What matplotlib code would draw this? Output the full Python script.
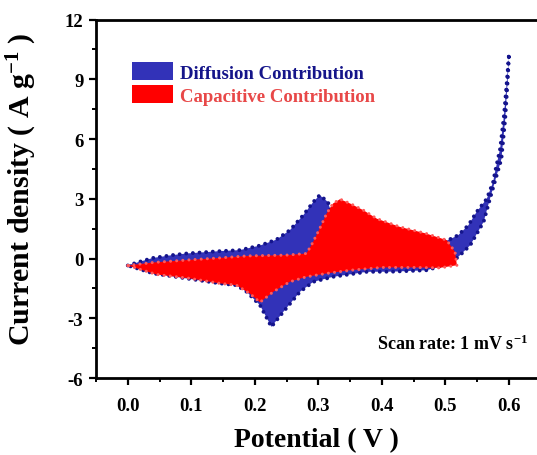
import matplotlib
matplotlib.use('Agg')
import matplotlib.pyplot as plt
from matplotlib.patches import Patch
from matplotlib.ticker import MultipleLocator

plt.rcParams['font.family'] = ['Liberation Serif', 'DejaVu Serif']
plt.rcParams['font.weight'] = 'bold'
plt.rcParams['mathtext.fontset'] = 'custom'
plt.rcParams['mathtext.rm'] = 'Liberation Serif:bold'
plt.rcParams['mathtext.bf'] = 'Liberation Serif:bold'
plt.rcParams['mathtext.default'] = 'bf'
plt.rcParams['axes.unicode_minus'] = False

# total CV (diffusion + capacitive), closed loop: anodic sweep then cathodic sweep
total_v = [0.0, 0.02, 0.04, 0.07, 0.092, 0.145, 0.176, 0.208, 0.234, 0.255, 0.276, 0.292, 0.302,
           0.315, 0.325, 0.335, 0.35, 0.4, 0.45, 0.504, 0.52, 0.536, 0.549, 0.565, 0.575, 0.578,
           0.586, 0.592, 0.596, 0.6,
           0.598, 0.594, 0.588, 0.57, 0.56, 0.539, 0.523, 0.517, 0.491, 0.47, 0.417, 0.376,
           0.323, 0.292, 0.271, 0.245, 0.226, 0.208, 0.187, 0.171, 0.145, 0.092, 0.04, 0.0]
total_i = [-0.35, -0.15, 0.03, 0.17, 0.25, 0.37, 0.42, 0.65, 0.95, 1.42, 2.17, 2.84, 3.18,
           2.84, 1.8, 1.2, 0.9, 0.7, 0.7, 0.92, 1.17, 1.67, 2.34, 3.0, 3.85, 4.35,
           5.52, 7.19, 8.7, 10.29,
           9.0, 7.0, 5.0, 3.0, 1.84, 0.67, 0.17, 0.0, -0.4, -0.59, -0.66, -0.67,
           -0.92, -1.17, -1.67, -2.67, -3.43, -2.34, -1.67, -1.34, -1.25, -1.0, -0.75, -0.35]

# capacitive contribution, closed loop
cap_v = [0.0, 0.04, 0.092, 0.145, 0.188, 0.25, 0.281, 0.289, 0.302, 0.313, 0.323, 0.334,
         0.35, 0.371, 0.392, 0.428, 0.47, 0.502, 0.515, 0.518,
         0.491, 0.45, 0.4, 0.35, 0.313, 0.281, 0.255, 0.229, 0.208, 0.192, 0.171, 0.145,
         0.098, 0.045, 0.0]
cap_i = [-0.35, -0.2, -0.08, 0.03, 0.13, 0.17, 0.25, 0.67, 1.5, 2.26, 2.76, 2.98,
         2.76, 2.42, 2.0, 1.59, 1.25, 0.92, 0.33, -0.34,
         -0.47, -0.45, -0.45, -0.59, -0.75, -0.92, -1.17, -1.67, -2.2, -1.76, -1.34, -1.25,
         -1.0, -0.8, -0.35]

labels = ['Diffusion Contribution', 'Capacitive Contribution']
fill_colors = ['#3232b8', '#ff0000']
dot_colors = ['#14148c', '#ff5a5a']
text_colors = ['#15158a', '#e84848']

fig = plt.figure(figsize=(5.37, 4.56), dpi=100)
ax = fig.add_axes([96 / 537, 77 / 456, 441 / 537, 358.5 / 456])

ax.fill(total_v, total_i, color=fill_colors[0], lw=0, zorder=2)
ax.plot(total_v, total_i, color=dot_colors[0], lw=2.8, linestyle=(0, (0.01, 1.7)),
        dash_capstyle='round', zorder=3)
ax.fill(cap_v, cap_i, color=fill_colors[1], lw=0, zorder=4)
ax.plot(cap_v, cap_i, color=dot_colors[1], lw=2.2, linestyle=(0, (0.01, 2.0)),
        dash_capstyle='round', zorder=5)

ax.set_xlim(-0.05, 0.644)
ax.set_ylim(-6, 12)
ax.xaxis.set_minor_locator(MultipleLocator(0.05))
ax.yaxis.set_major_locator(MultipleLocator(3))
ax.yaxis.set_minor_locator(MultipleLocator(1.5))
ax.set_xticks([0.0, 0.1, 0.2, 0.3, 0.4, 0.5, 0.6])
ax.set_xticklabels(['0.0', '0.1', '0.2', '0.3', '0.4', '0.5', '0.6'])
ax.tick_params(which='major', direction='out', length=5, width=1.6, labelsize=13.5)
ax.tick_params(axis='x', which='major', pad=9)
ax.tick_params(axis='y', which='major', pad=4)
ax.tick_params(which='minor', direction='out', length=3, width=1.4)
ax.tick_params(top=False, right=False)
for lab in ax.get_xticklabels() + ax.get_yticklabels():
    lab.set_fontweight('bold')

ax.spines['right'].set_visible(False)
for s in ['left', 'bottom', 'top']:
    ax.spines[s].set_linewidth(2.0)

ax.set_xlabel('Potential ( V )', fontsize=20, fontweight='bold', labelpad=9)
ax.set_ylabel('Current density ( A g$^{-1}$ )', fontsize=21.5, fontweight='bold')
ax.yaxis.set_label_coords(-0.13, 0.53)

handles = [Patch(facecolor=c, edgecolor='none') for c in fill_colors]
leg = ax.legend(handles, labels, loc='upper left', bbox_to_anchor=(0.0816, 0.881),
                frameon=False, handlelength=2.2, handleheight=1.1,
                handletextpad=0.35, labelspacing=0.2, borderpad=0, borderaxespad=0,
                prop={'weight': 'bold', 'size': 13.5})
for t, c in zip(leg.get_texts(), text_colors):
    t.set_color(c)

ax.text(0.392, -4.55, 'Scan rate: 1 mV s$^{-1}$', fontsize=13, fontweight='bold',
        color='black', va='baseline')

fig.savefig('out.png', dpi=100)
